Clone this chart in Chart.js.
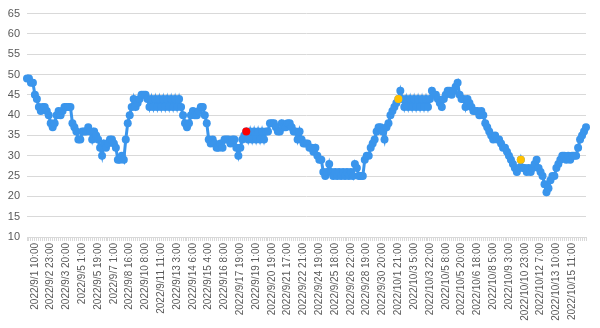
<!DOCTYPE html>
<html>
<head>
<meta charset="utf-8">
<script src="https://cdn.jsdelivr.net/npm/chart.js@4"></script>
<style>
  body { margin: 0; background: #fff; }
</style>
</head>
<body>
<canvas id="chart" width="600" height="328"></canvas>
<script>
// labels Excel printed under the axis (one every 8 points)
const tickLabels = [
  '2022/9/1 10:00', '2022/9/2 23:00', '2022/9/3 20:00', '2022/9/5 1:00', '2022/9/5 19:00',
  '2022/9/7 1:00', '2022/9/8 16:00', '2022/9/10 8:00', '2022/9/11 11:00', '2022/9/13 3:00',
  '2022/9/14 6:00', '2022/9/15 4:00', '2022/9/16 8:00', '2022/9/17 19:00', '2022/9/19 1:00',
  '2022/9/20 19:00', '2022/9/21 17:00', '2022/9/22 21:00', '2022/9/24 19:00', '2022/9/25 18:00',
  '2022/9/26 22:00', '2022/9/28 19:00', '2022/9/30 20:00', '2022/10/1 21:00', '2022/10/3 5:00',
  '2022/10/3 22:00', '2022/10/5 8:00', '2022/10/5 20:00', '2022/10/6 18:00', '2022/10/8 5:00',
  '2022/10/9 3:00', '2022/10/10 23:00', '2022/10/12 7:00', '2022/10/13 10:00', '2022/10/15 11:00'
];

const values = [
  49, 49, 48, 48, 45, 44, 42, 41,
  42, 42, 41, 40, 38, 37, 38, 40,
  41, 40, 41, 42, 42, 42, 42, 38,
  37, 36, 34, 34, 36, 36, 36, 37,
  36, 34, 36, 35, 34, 32, 30, 33,
  32, 33, 34, 34, 33, 32, 29, 29,
  30, 29, 34, 38, 40, 42, 44, 42,
  43, 44, 45, 45, 45, 44, 42, 44,
  42, 44, 42, 44, 42, 44, 42, 44,
  42, 44, 42, 44, 42, 44, 42, 40,
  38, 37, 38, 40, 41, 40, 40, 41,
  42, 42, 40, 38, 34, 33, 34, 33,
  32, 32, 33, 32, 34, 34, 34, 33,
  34, 34, 32, 30, 32, 34, 35, 36,
  34, 36, 34, 36, 34, 36, 34, 36,
  34, 36, 36, 38, 38, 38, 37, 36,
  36, 38, 37, 37, 38, 38, 37, 36,
  36, 34, 36, 34, 33, 33, 33, 32,
  32, 31, 32, 30, 29, 29, 26, 25,
  26, 28, 26, 25, 26, 25, 26, 25,
  26, 25, 26, 25, 26, 25, 28, 27,
  25, 25, 25, 29, 30, 30, 32, 33,
  34, 36, 37, 37, 36, 34, 37, 38,
  40, 41, 42, 43, 44, 46, 44, 42,
  44, 42, 44, 42, 44, 42, 44, 42,
  44, 42, 44, 42, 44, 46, 45, 45,
  44, 43, 42, 44, 45, 46, 46, 45,
  46, 47, 48, 45, 44, 44, 42, 44,
  43, 42, 41, 41, 41, 40, 41, 40,
  38, 37, 36, 35, 34, 35, 34, 34,
  33, 32, 32, 31, 30, 29, 28, 27,
  26, 27, 29, 27, 27, 26, 27, 26,
  27, 28, 29, 27, 26, 25, 23, 21,
  22, 24, 25, 25, 27, 28, 29, 30,
  30, 29, 30, 29, 30, 30, 30, 32,
  34, 35, 36, 37
];

const redPoints = [111];
const yellowPoints = [188, 250];

const yTicks = [10, 15, 20, 25, 30, 35, 40, 45, 50, 55, 60, 65];

const labelEvery = 8;
const labelStart = 4;

// one category per point, only every 8th one carries a printed label
const categories = values.map((v, i) =>
  (i - labelStart) % labelEvery === 0 && i >= labelStart ? tickLabels[(i - labelStart) / labelEvery] || '' : ''
);

const blue = '#3A95EC';
const highlight = values.map((v, i) =>
  redPoints.includes(i) || yellowPoints.includes(i) ? v : null
);
const highlightColors = values.map((v, i) =>
  redPoints.includes(i) ? '#FF0000' : '#FFC000'
);

const ctx = document.getElementById('chart').getContext('2d');
new Chart(ctx, {
  type: 'line',
  data: {
    labels: categories,
    datasets: [
      {
        data: highlight,
        showLine: false,
        pointRadius: 4,
        pointBackgroundColor: highlightColors,
        pointBorderWidth: 0
      },
      {
        data: values,
        borderColor: blue,
        borderWidth: 3,
        pointRadius: 4,
        pointBackgroundColor: blue,
        pointBorderWidth: 0,
        tension: 0
      }
    ]
  },
  options: {
    responsive: false,
    animation: false,
    layout: { padding: { top: 11, right: 3, left: 0, bottom: 0 } },
    plugins: {
      legend: { display: false },
      tooltip: { enabled: false }
    },
    scales: {
      x: {
        ticks: {
          autoSkip: false,
          minRotation: 90,
          maxRotation: 90,
          padding: 2,
          color: '#595959',
          font: { family: 'Liberation Sans', size: 10 }
        },
        grid: { drawOnChartArea: false, drawTicks: true, tickLength: 4, color: '#d9d9d9' },
        border: { color: '#d9d9d9' },
        afterFit(scale) { scale.height = 91; }
      },
      y: {
        min: 10,
        max: 65,
        afterBuildTicks(scale) { scale.ticks = yTicks.map(v => ({ value: v })); },
        ticks: {
          padding: 7,
          color: '#595959',
          font: { family: 'Liberation Sans', size: 11 }
        },
        grid: { color: '#d9d9d9', drawTicks: false },
        border: { display: false },
        afterFit(scale) { scale.width = 27; }
      }
    }
  }
});
</script>
</body>
</html>
